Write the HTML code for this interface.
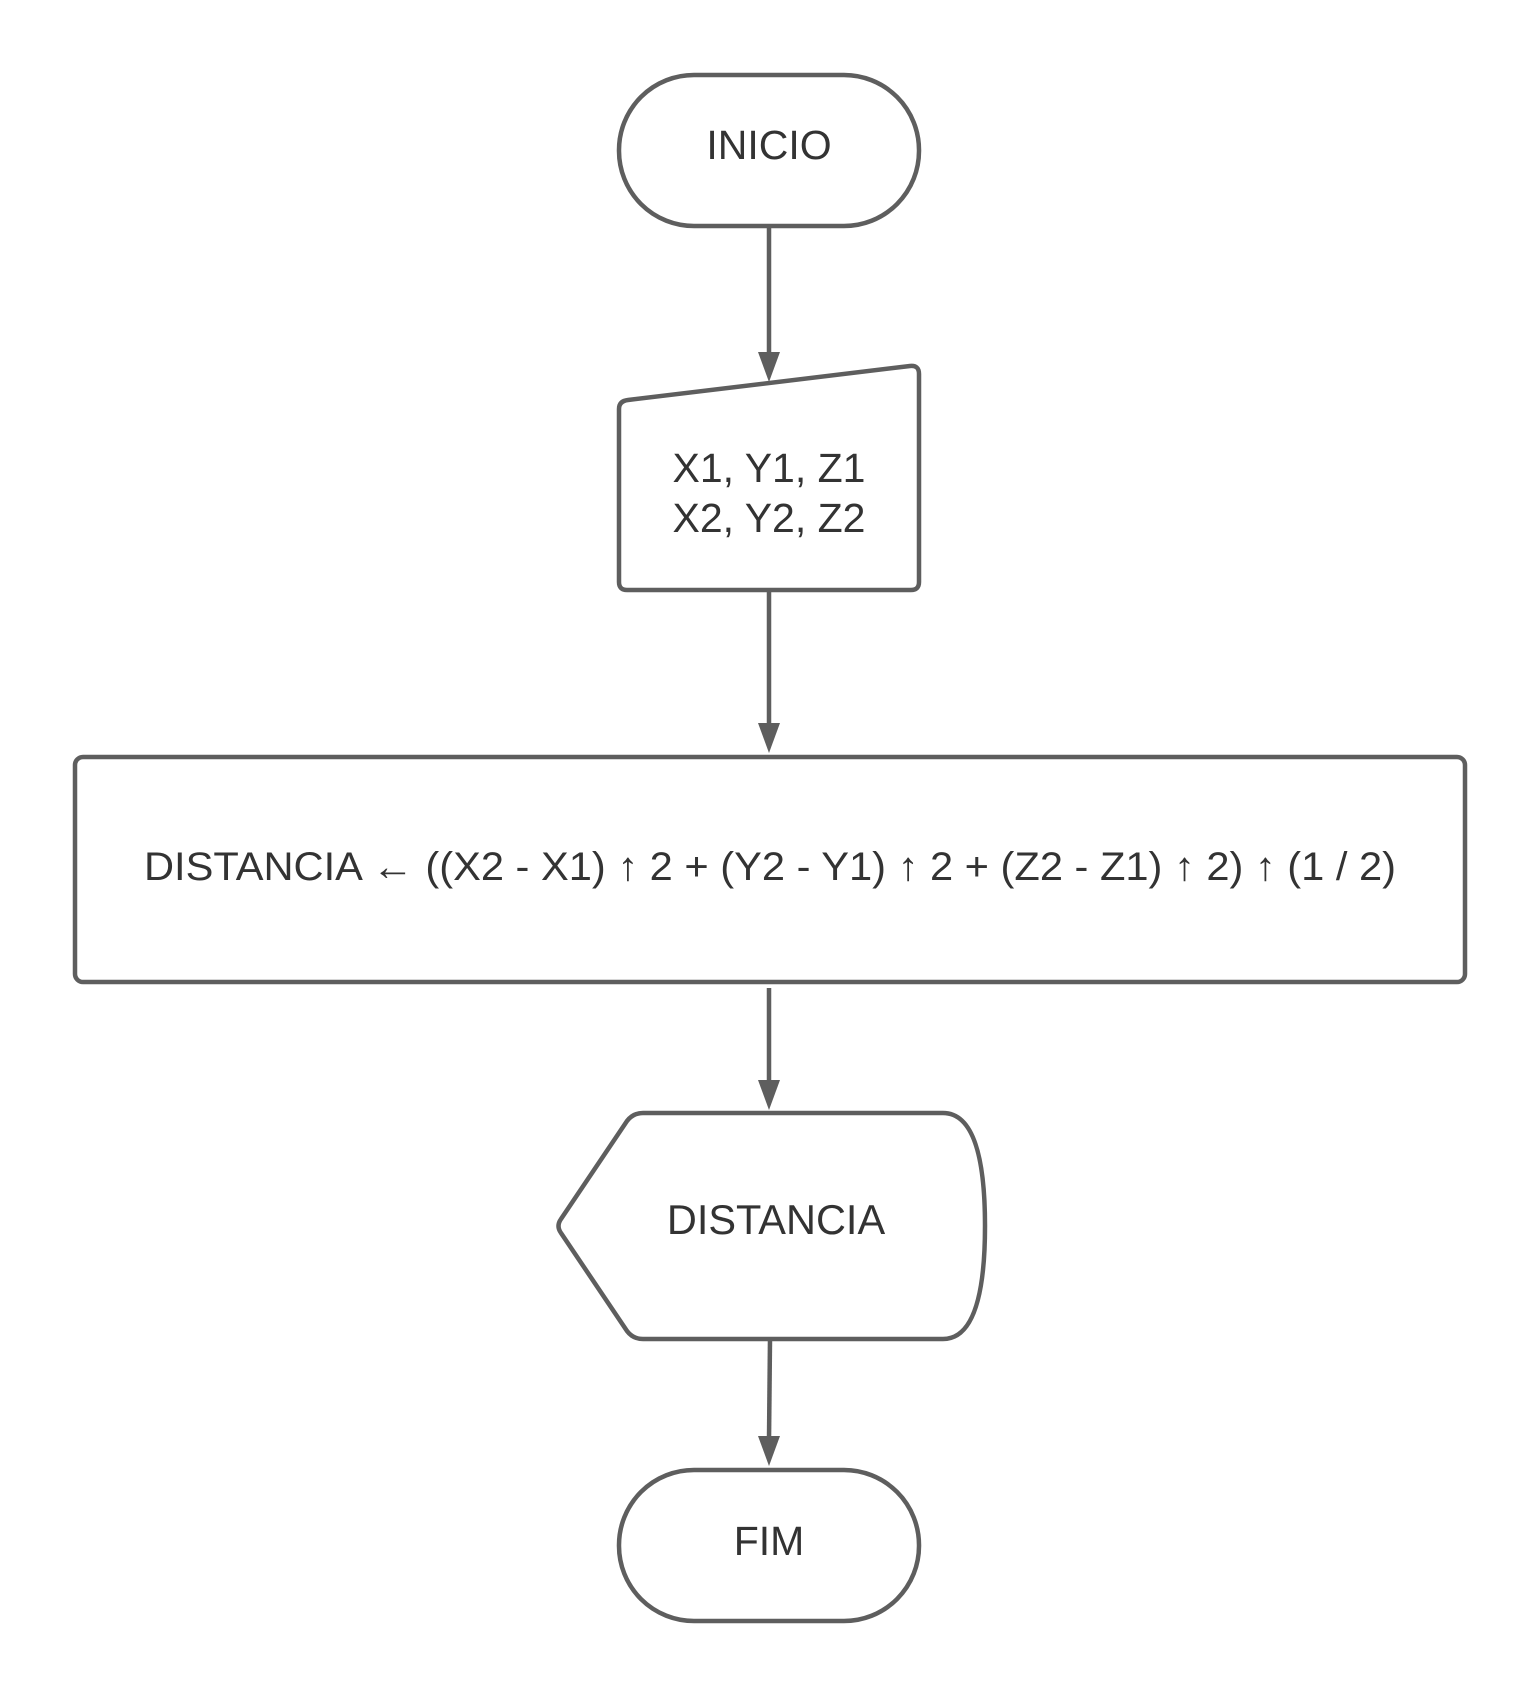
<!DOCTYPE html>
<html><head><meta charset="utf-8"><style>html,body{margin:0;padding:0;background:#fff}svg{display:block}</style></head>
<body>
<svg width="1538" height="1695" viewBox="0 0 1538 1695" xmlns="http://www.w3.org/2000/svg">
<g fill="none" stroke="#5e5e5e" stroke-width="4.5" stroke-linejoin="round">
<rect x="619" y="75" width="300" height="151" rx="75" fill="#fff"/>
<path d="M628,400 L910,366 Q919,365 919,374 L919,582 Q919,590 911,590 L627,590 Q619,590 619,582 L619,409 Q619,401 628,400 Z" fill="#fff"/>
<rect x="75" y="757" width="1390" height="225" rx="8" fill="#fff"/>
<path d="M643,1113 L943,1113 Q985,1113 985,1226 Q985,1339 943,1339 L643,1339 Q633,1339 627,1331 L561,1233 Q556,1226 561,1219 L627,1121 Q633,1113 643,1113 Z" fill="#fff"/>
<rect x="619" y="1470" width="300" height="151" rx="75" fill="#fff"/>
<line x1="769" y1="226" x2="769" y2="355"/>
<line x1="769" y1="590" x2="769" y2="726"/>
<line x1="769" y1="988" x2="769" y2="1083"/>
<line x1="770" y1="1339" x2="769" y2="1440"/>
</g>
<g fill="#5e5e5e">
<polygon points="758,352 780,352 769,382"/>
<polygon points="758,723 780,723 769,753"/>
<polygon points="758,1080 780,1080 769,1110"/>
<polygon points="758,1436 780,1436 769,1466"/>
</g>
<g fill="#333" font-family="Liberation Sans, sans-serif" font-size="41" text-anchor="middle">
<text x="769" y="159">INICIO</text>
<text x="769" y="482">X1, Y1, Z1</text>
<text x="769" y="532">X2, Y2, Z2</text>
<text x="770" y="880" font-size="40" textLength="1252" lengthAdjust="spacingAndGlyphs">DISTANCIA ← ((X2 - X1) ↑ 2 + (Y2 - Y1) ↑ 2 + (Z2 - Z1) ↑ 2) ↑ (1 / 2)</text>
<text x="776" y="1234" font-size="41.5">DISTANCIA</text>
<text x="769" y="1555">FIM</text>
</g>
</svg>
</body></html>
